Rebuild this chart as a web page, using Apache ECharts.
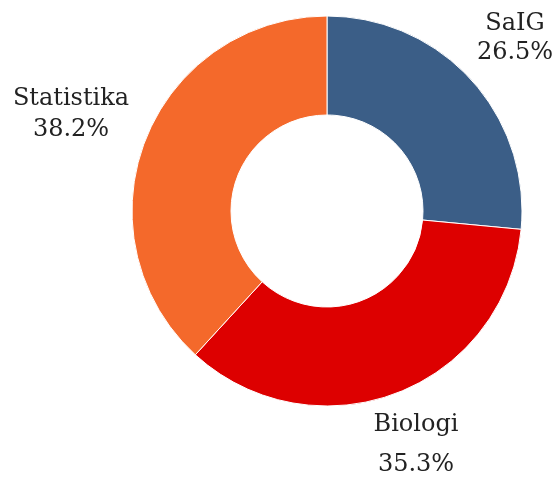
<!DOCTYPE html>
<html><head><meta charset="utf-8">
<script src="https://cdn.jsdelivr.net/npm/echarts@6/dist/echarts.min.js"></script>
<style>html,body{margin:0;padding:0;background:#fff}#c{width:556px;height:480px}</style>
</head><body><div id="c"></div>
<script>
const categories = ['SaIG', 'Biologi', 'Statistika'];
const values = [26.5, 35.3, 38.2];
const colors = ['#3B5E87', '#DD0000', '#F4692B'];
const labelPos = [[515, 38, 29], [416, 445, 40], [71, 114, 31]];

const chart = echarts.init(document.getElementById('c'));
chart.setOption({
  animation: false,
  series: [{
    type: 'pie',
    center: [327, 211],
    radius: [96, 195],
    startAngle: 90,
    clockwise: true,
    data: categories.map((n, i) => ({
      name: n, value: values[i],
      itemStyle: { color: colors[i] },
      label: { lineHeight: labelPos[i][2] }
    })),
    itemStyle: { borderColor: '#fff', borderWidth: 1 },
    label: {
      show: true,
      position: 'outside',
      formatter: p => p.name + '\n' + p.value.toFixed(1) + '%',
      fontFamily: 'DejaVu Serif',
      fontSize: 24,
      color: '#222',
      align: 'center',
      overflow: 'none',
      width: 200
    },
    labelLine: { show: false },
    labelLayout: p => ({
      x: labelPos[p.dataIndex][0],
      y: labelPos[p.dataIndex][1],
      align: 'center',
      verticalAlign: 'middle'
    })
  }]
});
</script></body></html>
